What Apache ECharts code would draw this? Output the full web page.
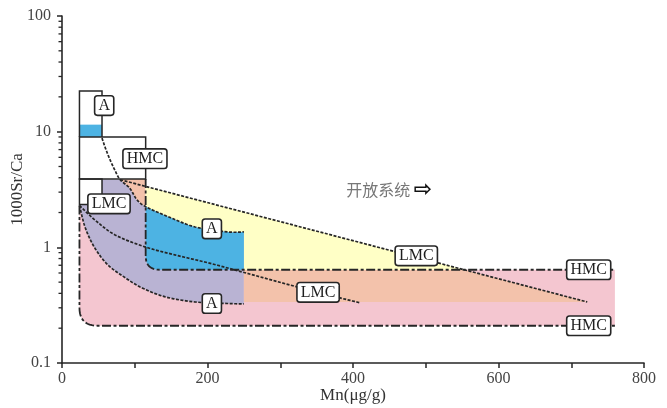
<!DOCTYPE html>
<html><head><meta charset="utf-8">
<script src="https://cdn.jsdelivr.net/npm/echarts@6/dist/echarts.min.js"></script>
<style>html,body{margin:0;padding:0;background:#fff}#c{width:667px;height:408px}</style>
</head><body><div id="c"></div><script>
// ---- data ----
const xTickLabels = [0, 200, 400, 600, 800];
const yTickLabels = [0.1, 1, 10, 100];
const yMinorTicks = [0.2,0.3,0.4,0.5,0.6,0.7,0.8,0.9,2,3,4,5,6,7,8,9,20,30,40,50,60,70,80,90];

const aragoniteUpper = [[55,8.8],[59,7.4],[66,5.72],[73,4.6],[80,3.84],[93,3.25],[103,2.58],[115,2.25],[146,1.84],[183,1.5],[227,1.36],[250,1.36]];
const aragoniteLower = [[24,2.3],[32,1.475],[45,0.99],[63,0.706],[87,0.545],[110,0.446],[142,0.373],[183,0.337],[227,0.327],[250,0.324]];
const lmcShort = [[24,2.3],[45,1.73],[73,1.28],[114,1.01],[155,0.861],[201,0.734],[247,0.614],[323,0.455],[381,0.367],[410,0.331]];
const lmcLong = [[80,3.84],[722,0.337]];
const hmcOuter = [[24,2.3],[24,0.21],[760,0.21]];
const hmcInner = [[115,3.9],[115,0.64],[760,0.64]];

const boxA = [[24,9],[24,22.5],[55,22.5],[55,9]];
const boxHMC = [[24,3.9],[24,9],[115,9],[115,3.9]];
const boxLMC = [[24,2.35],[24,3.9],[55,3.9],[55,2.35]];
const blueBand = [[24,9],[24,11.5],[55,11.5],[55,9]];

const pinkField = [[24,2.3],[24,0.21],[760,0.21],[760,0.64],[115,0.64],[115,2.25]];
const purpleTop = [[24,3.9]];
const salmonTriTop = [[80,3.9],[115,3.9]];
const salmonField = [[250,0.64],[553,0.64],[722,0.337],[250,0.337]];
const yellowField = [[115,3.35],[553,0.64],[250,0.64]];
const blueField = [[250,0.64],[115,0.64]];

const labelX = [58, 114, 64.6, 206, 206, 352, 487, 724, 724];
const labelY = [16.8, 5.84, 2.38, 1.445, 0.327, 0.408, 0.844, 0.64, 0.21];
const labelText = ['A','HMC','LMC','A','A','LMC','LMC','HMC','HMC'];
const noteX = [449.5], noteY = [3.11];
const noteText = ['开放系统'];

// ---- helpers ----
function cr(pts, n) {
  n = n || 10;
  if (pts.length < 3) return pts.slice();
  const out = [];
  for (let i = 0; i < pts.length - 1; i++) {
    const p0 = pts[Math.max(i-1,0)], p1 = pts[i], p2 = pts[i+1], p3 = pts[Math.min(i+2,pts.length-1)];
    for (let k = 0; k < n; k++) {
      const t = k/n, t2 = t*t, t3 = t2*t;
      out.push([0,1].map(j => 0.5*((2*p1[j]) + (-p0[j]+p2[j])*t + (2*p0[j]-5*p1[j]+4*p2[j]-p3[j])*t2 + (-p0[j]+3*p1[j]-3*p2[j]+p3[j])*t3)));
    }
  }
  out.push(pts[pts.length-1]);
  return out;
}
function buildPath(parts, api, closed) {
  let items = [];
  parts.forEach(part => {
    let px = part.pts.map(p => api.coord([p[0], p[1]]));
    if (part.smooth) px = cr(px);
    px.forEach((p, i) => items.push({p: p, r: (!part.smooth && part.round) ? (part.round[i] || 0) : 0}));
  });
  const out = [];
  const N = items.length;
  items.forEach((it, i) => {
    if (!it.r || (!closed && (i === 0 || i === N-1))) { out.push(it.p); return; }
    const p = it.p, a = items[(i-1+N)%N].p, b = items[(i+1)%N].p;
    const d1 = Math.hypot(a[0]-p[0], a[1]-p[1]), d2 = Math.hypot(b[0]-p[0], b[1]-p[1]);
    const r1 = Math.min(it.r, d1/2), r2 = Math.min(it.r, d2/2);
    const s = [p[0]+(a[0]-p[0])*r1/d1, p[1]+(a[1]-p[1])*r1/d1];
    const e = [p[0]+(b[0]-p[0])*r2/d2, p[1]+(b[1]-p[1])*r2/d2];
    for (let k = 0; k <= 12; k++) {
      const t = k/12;
      out.push([0,1].map(j => (1-t)*(1-t)*s[j] + 2*(1-t)*t*p[j] + t*t*e[j]));
    }
  });
  return out;
}
let zc = 1;
function shape(parts, style, closed) {
  const first = parts[0].pts[0];
  return {
    type: 'custom', coordinateSystem: 'cartesian2d', silent: true, clip: false, z: zc++,
    data: [[first[0], first[1]]],
    renderItem: (params, api) => {
      const pts = buildPath(parts, api, closed);
      return closed
        ? {type: 'polygon', shape: {points: pts}, style: Object.assign({stroke: null, fill: null}, style)}
        : {type: 'polyline', shape: {points: pts}, style: Object.assign({fill: null}, style)};
    }
  };
}
const INK = '#262626';
const dotted = {stroke: INK, lineWidth: 1.7, lineDash: [3, 1.5]};
const dashDot = {stroke: INK, lineWidth: 1.8, lineDash: [9, 2.5, 3, 2.5]};
const solid = {stroke: INK, lineWidth: 1.5};
const serif = 'Liberation Serif';

const series = [
  // fields
  shape([{pts: pinkField, round: {1: 18, 4: 14}}], {fill: '#f4c6d0'}, true),
  shape([{pts: purpleTop}, {pts: aragoniteUpper.slice(4), smooth: true}, {pts: aragoniteLower.slice().reverse(), smooth: true}], {fill: '#b9b3d3'}, true),
  shape([{pts: salmonTriTop}, {pts: aragoniteUpper.slice(4, 8).reverse(), smooth: true}], {fill: '#f3c2ab'}, true),
  shape([{pts: salmonField}], {fill: '#f3c2ab'}, true),
  shape([{pts: yellowField}, {pts: aragoniteUpper.slice(7).reverse(), smooth: true}], {fill: '#ffffc6'}, true),
  shape([{pts: aragoniteUpper.slice(7), smooth: true}, {pts: blueField, round: {1: 14}}], {fill: '#4db3e3'}, true),
  // boxes (fills)
  shape([{pts: boxA}], {fill: '#fff'}, true),
  shape([{pts: boxHMC}], {fill: '#fff'}, true),
  shape([{pts: boxLMC}], {fill: '#fff'}, true),
  shape([{pts: blueBand}], {fill: '#4db3e3'}, true),
  // trend lines
  shape([{pts: aragoniteUpper, smooth: true}], dotted, false),
  shape([{pts: aragoniteLower, smooth: true}], dotted, false),
  shape([{pts: lmcShort, smooth: true}], dotted, false),
  shape([{pts: lmcLong}], dotted, false),
  shape([{pts: hmcOuter, round: {1: 18}}], dashDot, false),
  shape([{pts: hmcInner, round: {1: 14}}], dashDot, false),
  // box outlines
  shape([{pts: boxA}], solid, false),
  shape([{pts: boxHMC}], solid, true),
  shape([{pts: boxLMC}], solid, true),
  // minor ticks on log axis
  {
    type: 'custom', coordinateSystem: 'cartesian2d', silent: true, clip: false, z: 30,
    data: yMinorTicks.map(v => [0, v]),
    renderItem: (params, api) => {
      const p = api.coord([api.value(0), api.value(1)]);
      return {type: 'line', shape: {x1: p[0]-3.5, y1: p[1], x2: p[0], y2: p[1]}, style: {stroke: INK, lineWidth: 1.3}};
    }
  },
  // boxed labels
  {
    type: 'custom', coordinateSystem: 'cartesian2d', silent: true, clip: false, z: 40,
    data: labelX.map((x, i) => [x, labelY[i], i]),
    renderItem: (params, api) => {
      const p = api.coord([api.value(0), api.value(1)]);
      return {
        type: 'text', x: p[0], y: p[1],
        style: {
          text: labelText[params.dataIndex], align: 'center', verticalAlign: 'middle',
          fontFamily: serif, fontSize: 16, fill: '#1e1e1e', lineHeight: 16,
          backgroundColor: '#fff', borderColor: INK, borderWidth: 1.6, borderRadius: 2,
          padding: [1, 3, 1, 3]
        }
      };
    }
  },
  {
    type: 'custom', coordinateSystem: 'cartesian2d', silent: true, clip: false, z: 40,
    data: noteX.map((x, i) => [x, noteY[i], i]),
    renderItem: (params, api) => {
      const p = api.coord([api.value(0), api.value(1)]);
      return {
        type: 'text', x: p[0], y: p[1],
        style: {
          text: '{t|' + noteText[params.dataIndex] + '} {a|⇨}', align: 'center', verticalAlign: 'middle',
          rich: {
            t: {fontFamily: 'Noto Sans CJK SC', fontSize: 16, fill: '#777'},
            a: {fontFamily: 'DejaVu Sans', fontSize: 22, fill: '#111', fontWeight: 'bold'}
          }
        }
      };
    }
  }
];

const chart = echarts.init(document.getElementById('c'), null, {renderer: 'canvas'});
chart.setOption({
  animation: false,
  backgroundColor: '#fff',
  grid: {left: 62, right: 23, top: 16, bottom: 45, containLabel: false, outerBoundsMode: 'none'},
  xAxis: {
    type: 'value', min: 0, max: 800, interval: 100,
    name: 'Mn(μg/g)', nameLocation: 'middle', nameGap: 24, nameMoveOverlap: false,
    nameTextStyle: {fontFamily: serif, fontSize: 17, color: '#333'},
    axisLine: {show: true, lineStyle: {color: INK, width: 1.6}},
    axisTick: {show: true, length: 5, lineStyle: {color: INK, width: 1.5}},
    axisLabel: {formatter: v => xTickLabels.includes(v) ? String(v) : '', color: '#444', fontFamily: serif, fontSize: 16, margin: 8},
    splitLine: {show: false}
  },
  yAxis: {
    type: 'log', logBase: 10, min: 0.1, max: 100,
    name: '1000Sr/Ca', nameLocation: 'middle', nameGap: 36, nameMoveOverlap: false,
    nameTextStyle: {fontFamily: serif, fontSize: 17, color: '#333'},
    axisLine: {show: true, lineStyle: {color: INK, width: 1.6}},
    axisTick: {show: true, length: 5, lineStyle: {color: INK, width: 1.5}},
    axisLabel: {formatter: v => { const m = yTickLabels.find(t => Math.abs(t - v) / t < 1e-6); return m !== undefined ? String(m) : ''; }, color: '#444', fontFamily: serif, fontSize: 16, margin: 11},
    splitLine: {show: false}
  },
  series: series
});
</script></body></html>
